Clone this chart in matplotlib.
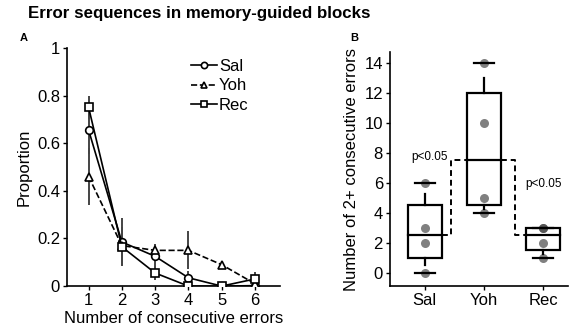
import numpy as np
import matplotlib
matplotlib.use('Agg')
from matplotlib import pyplot as plt
from matplotlib.patches import Rectangle

plt.rcParams['font.family'] = ['Liberation Sans', 'DejaVu Sans']

# panel A data
n_errors = [1, 2, 3, 4, 5, 6]
sal = [0.655, 0.185, 0.125, 0.035, 0.0, 0.002]
yoh = [0.46, 0.17, 0.15, 0.15, 0.09, 0.01]
rec = [0.75, 0.165, 0.055, 0.0, 0.0, 0.03]
sal_err = [0.10, 0.10, 0.05, 0.03, 0.0, 0.01]
yoh_err = [0.12, 0.08, 0.025, 0.08, 0.01, 0.02]
rec_err = [0.05, 0.05, 0.03, 0.0, 0.0, 0.03]

# panel B data (per animal)
groups = ['Sal', 'Yoh', 'Rec']
sal_pts = [0, 2, 3, 6]
yoh_pts = [4, 5, 10, 14]
rec_pts = [1, 2, 3, 3]

fig = plt.figure(figsize=(5.7, 3.3), dpi=100)
fig.text(0.049, 0.958, 'Error sequences in memory-guided blocks', fontsize=12.2,
         fontweight='bold', va='center', ha='left')
fig.text(0.035, 0.885, 'A', fontsize=8, fontweight='bold', va='center')
fig.text(0.615, 0.885, 'B', fontsize=8, fontweight='bold', va='center')

# ---- A ----
ax = fig.add_axes([0.1175, 0.133, 0.3735, 0.722])
series = [(sal, sal_err, 'o', '-', 'Sal', 5.5),
          (yoh, yoh_err, '^', '--', 'Yoh', 5.5),
          (rec, rec_err, 's', '-', 'Rec', 5.5)]
handles = []
for y, e, m, ls, lab, ms in series:
    ax.errorbar(n_errors, y, yerr=e, fmt='none', ecolor='#444444', elinewidth=1.4,
                capsize=0, zorder=2)
    l, = ax.plot(n_errors, y, marker=m, ls=ls, color='black', lw=1.2, ms=ms,
                 mfc='white', mec='black', mew=1.2, label=lab, zorder=3)
    handles.append(l)
ax.set_xlim(0.35, 6.75)
ax.set_ylim(0, 1)
ax.set_xticks(n_errors)
ax.set_yticks([0, 0.2, 0.4, 0.6, 0.8, 1])
ax.set_yticklabels(['0', '0.2', '0.4', '0.6', '0.8', '1'])
ax.set_xlabel('Number of consecutive errors', fontsize=12, labelpad=2)
ax.set_ylabel('Proportion', fontsize=12, labelpad=4)
ax.tick_params(labelsize=12, length=3, width=1, pad=2)
for s in ['top', 'right']:
    ax.spines[s].set_visible(False)
for s in ['left', 'bottom']:
    ax.spines[s].set_linewidth(1.2)
leg = ax.legend(handles=handles, loc='upper left', bbox_to_anchor=(0.55, 0.98),
                frameon=False, fontsize=12, handlelength=1.6, handletextpad=0.1,
                labelspacing=0.25, borderaxespad=0)
for h in leg.legend_handles:
    h.set_markersize(4.5)

# ---- B ----
bx = fig.add_axes([0.684, 0.133, 0.3125, 0.709])
pts = [sal_pts, yoh_pts, rec_pts]
xpos = np.arange(1, len(groups) + 1)
half = 0.29
capw = 0.17
meds = []
for x, p in zip(xpos, pts):
    p = np.sort(p)
    q1 = np.median(p[:len(p) // 2])
    q3 = np.median(p[len(p) - len(p) // 2:])
    med = np.median(p)
    meds.append(med)
    bx.add_patch(Rectangle((x - half, q1), 2 * half, q3 - q1, fill=False,
                           ec='black', lw=1.6, zorder=3))
    bx.plot([x - half, x + half], [med, med], color='black', lw=1.6, zorder=3)
    lo, hi = p.min(), p.max()
    bx.plot([x, x], [q3, q3 + 0.5 * (hi - q3)], color='black', lw=1.6, zorder=3)
    bx.plot([x, x], [q1, q1 - 0.5 * (q1 - lo)], color='black', lw=1.6, zorder=3)
    bx.plot([x - capw, x + capw], [hi, hi], color='black', lw=1.6, zorder=4)
    bx.plot([x - capw, x + capw], [lo, lo], color='black', lw=1.6, zorder=4)
    bx.plot([x] * len(p), p, 'o', color='#444444', alpha=0.68, ms=6.5, mec='none', zorder=2)

# dashed connectors between medians
mid1 = 1.45
mid2 = 2.53
bx.plot([1 + half, mid1, mid1, 2 - half], [meds[0], meds[0], meds[1], meds[1]],
        color='black', ls=(0, (3, 2)), lw=1.4)
bx.plot([2 + half, mid2, mid2, 3 - half], [meds[1], meds[1], meds[2], meds[2]],
        color='black', ls=(0, (3, 2)), lw=1.4)
bx.text(1.08, 7.7, 'p<0.05', fontsize=8.5, ha='center', va='center')
bx.text(3.0, 5.9, 'p<0.05', fontsize=8.5, ha='center', va='center')

bx.set_xlim(0.41, 3.42)
bx.set_ylim(-0.9, 14.7)
bx.set_xticks(xpos)
bx.set_xticklabels(groups)
bx.set_yticks(np.arange(0, 15, 2))
bx.set_ylabel('Number of 2+ consecutive errors', fontsize=12, labelpad=4)
bx.tick_params(labelsize=12, length=3, width=1, pad=2)
for s in ['top', 'right']:
    bx.spines[s].set_visible(False)
for s in ['left', 'bottom']:
    bx.spines[s].set_linewidth(1.2)

fig.savefig('out.png', dpi=100)
